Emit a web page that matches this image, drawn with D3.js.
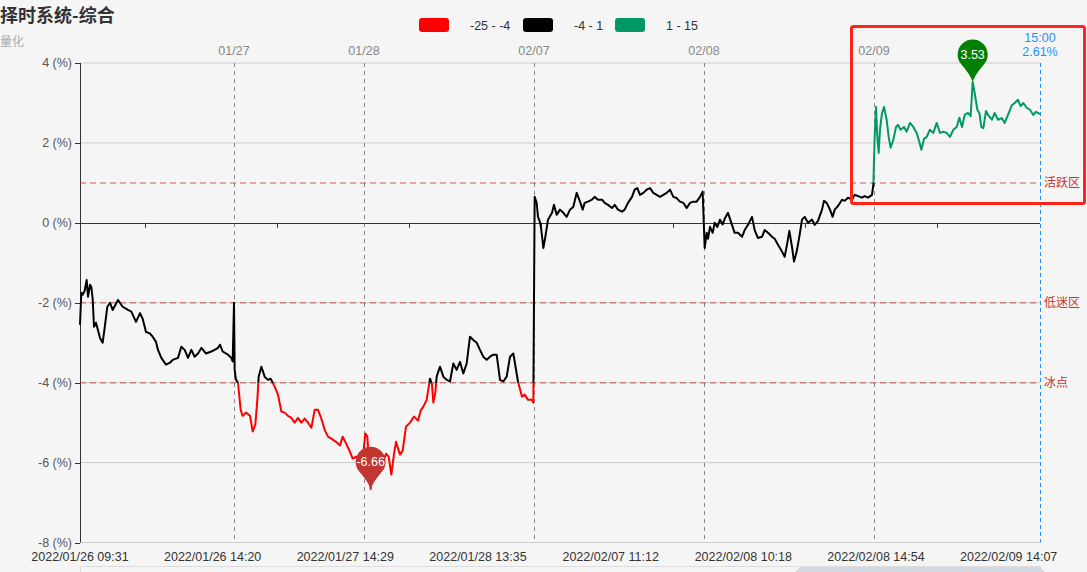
<!DOCTYPE html>
<html>
<head>
<meta charset="utf-8">
<title>择时系统-综合</title>
<style>
  body { margin: 0; background: #f5f5f5; }
  svg { display: block; }
  text { font-family: "Liberation Sans", "Noto Sans CJK SC", sans-serif; }
  .cjk { font-family: "Noto Sans CJK SC", sans-serif; }
</style>
</head>
<body>
<svg width="1087" height="572"></svg>
<script src="https://d3js.org/d3.v7.min.js"></script>
<script>

// minute index (6 trading days), percent value
var day1 = [[0,-2.55],[2,-1.75],[4,-1.8],[7,-1.7],[10,-1.43],[12,-1.85],[15,-1.55],[17,-1.6],[19,-1.9],[21,-2.6],[24,-2.5],[30,-2.88],[34,-3.0],[37,-2.63],[41,-2.1],[45,-2.0],[49,-2.18],[57,-1.93],[64,-2.1],[72,-2.18],[77,-2.22],[84,-2.48],[90,-2.26],[94,-2.4],[99,-2.73],[105,-2.77],[109,-2.85],[114,-2.98],[117,-3.18],[122,-3.38],[129,-3.55],[135,-3.5],[139,-3.43],[147,-3.38],[152,-3.1],[157,-3.18],[162,-3.38],[167,-3.18],[172,-3.35],[177,-3.27],[182,-3.13],[189,-3.27],[197,-3.22],[202,-3.18],[207,-3.13],[210,-3.05],[214,-3.22],[222,-3.3],[227,-3.38],[229,-3.47],[231,-2.0],[232,-3.68],[234,-3.93]];
var day2 = [[237,-4.0],[241,-4.68],[244,-4.83],[249,-4.75],[255,-4.83],[259,-5.22],[263,-5.05],[266,-4.43],[268,-3.85],[272,-3.6],[277,-3.85],[282,-3.93],[286,-3.9],[292,-4.1],[297,-4.3],[302,-4.72],[307,-4.75],[312,-4.83],[317,-4.88],[322,-5.0],[327,-4.88],[332,-5.0],[337,-4.9],[342,-5.0],[347,-5.13],[352,-4.68],[357,-4.68],[362,-4.9],[367,-5.18],[372,-5.35],[377,-5.4],[384,-5.48],[390,-5.57],[394,-5.35],[399,-5.52],[405,-5.73],[409,-5.9],[414,-5.85],[420,-5.98],[424,-5.94]];
var day3 = [[428,-5.27],[431,-5.35],[433,-5.9],[436,-6.66],[439,-6.0],[444,-5.85],[450,-5.94],[454,-6.0],[459,-5.78],[463,-5.85],[467,-6.3],[471,-5.78],[474,-5.48],[480,-5.8],[484,-5.7],[489,-5.1],[495,-5.0],[501,-4.85],[507,-4.95],[511,-4.7],[515,-4.6],[520,-4.43],[525,-3.9],[528,-4.05],[530,-4.5],[533,-4.25],[535,-3.85],[540,-3.6],[545,-3.85],[550,-3.93],[555,-3.97],[560,-3.52],[565,-3.68],[570,-3.48],[575,-3.77],[580,-3.52],[585,-2.85],[590,-2.93],[595,-3.0],[600,-3.18],[605,-3.35],[610,-3.43],[615,-3.35],[620,-3.3],[625,-3.3],[630,-3.93],[635,-3.97],[640,-3.85],[645,-3.35],[648,-3.3],[650,-3.27],[657,-3.97],[663,-4.35],[667,-4.3],[672,-4.43],[678,-4.43],[680,-4.5]];
var day4 = [[682,0.65],[685,0.5],[687,0.15],[690,0.02],[692,-0.18],[695,-0.63],[698,-0.35],[702,0.08],[708,0.25],[711,0.45],[715,0.2],[720,0.33],[725,0.25],[730,0.15],[735,0.33],[740,0.4],[745,0.75],[750,0.53],[754,0.33],[757,0.5],[762,0.53],[768,0.58],[772,0.65],[777,0.58],[783,0.58],[787,0.5],[792,0.45],[798,0.37],[802,0.45],[807,0.33],[813,0.28],[817,0.33],[822,0.5],[828,0.65],[832,0.83],[836,0.87],[840,0.7],[845,0.75],[850,0.83],[855,0.87],[860,0.75],[865,0.7],[870,0.65],[875,0.7],[880,0.75],[885,0.83],[890,0.65],[895,0.62],[900,0.53],[905,0.5],[910,0.37],[915,0.5],[920,0.53],[925,0.53],[930,0.65],[934,0.78]];
var day5 = [[937,-0.63],[940,-0.25],[942,-0.4],[945,-0.1],[949,-0.25],[952,0],[956,-0.1],[960,0.08],[964,-0.04],[967,0.1],[972,0.25],[978,-0.05],[982,-0.25],[987,-0.25],[993,-0.35],[997,-0.18],[1002,-0.05],[1008,0.15],[1012,-0.18],[1017,-0.38],[1023,-0.35],[1027,-0.18],[1032,-0.25],[1038,-0.35],[1042,-0.4],[1047,-0.55],[1053,-0.72],[1057,-0.85],[1061,-0.5],[1064,-0.2],[1068,-0.6],[1071,-0.97],[1075,-0.72],[1079,-0.35],[1083,0.08],[1087,0.15],[1092,0],[1098,0.08],[1102,-0.05],[1107,0.05],[1113,0.33],[1116,0.55],[1120,0.5],[1125,0.33],[1129,0.15],[1132,0.33],[1137,0.42],[1143,0.58],[1147,0.55],[1152,0.63],[1158,0.58],[1162,0.7],[1167,0.67],[1173,0.63],[1177,0.67],[1182,0.63],[1188,0.7],[1190,0.95]];
var day6 = [[1192,2.15],[1194,2.9],[1196,2.15],[1198,1.75],[1200,2.33],[1203,2.75],[1206,2.9],[1210,2.58],[1213,2.15],[1216,1.88],[1220,2.08],[1224,2.4],[1227,2.45],[1231,2.33],[1236,2.4],[1240,2.28],[1245,2.5],[1250,2.4],[1255,2.25],[1259,2.03],[1262,1.83],[1266,2.1],[1270,2.15],[1275,2.33],[1280,2.25],[1285,2.5],[1290,2.25],[1295,2.28],[1300,2.25],[1305,2.15],[1310,2.33],[1315,2.4],[1319,2.63],[1323,2.4],[1327,2.7],[1332,2.75],[1336,2.67],[1339,3.53],[1342,3.25],[1346,2.83],[1349,2.75],[1352,2.4],[1355,2.37],[1359,2.8],[1362,2.7],[1368,2.58],[1372,2.75],[1377,2.58],[1383,2.62],[1387,2.5],[1392,2.7],[1398,2.95],[1402,3.0],[1407,3.08],[1411,2.92],[1415,3.0],[1420,2.88],[1425,2.83],[1430,2.7],[1434,2.78],[1440,2.72]];

var bottomLabels = [[0,"2022/01/26 09:31"],[199,"2022/01/26 14:20"],[398,"2022/01/27 14:29"],[597,"2022/01/28 13:35"],[796,"2022/02/07 11:12"],[995,"2022/02/08 10:18"],[1194,"2022/02/08 14:54"],[1393,"2022/02/09 14:07"]];
var dayStarts = [[231,"01/27"],[426,"01/28"],[681,"02/07"],[936,"02/08"],[1191,"02/09"]];
var xTicks = [98,296,494,692,890,1088,1286];
var yTicks = [4,2,0,-2,-4,-6,-8];
var zones = [[1,"活跃区"],[-2,"低迷区"],[-4,"冰点"]];
var pieces = [{min:-25,max:-4,color:"#ff0000",label:"-25 - -4"},{min:-4,max:1,color:"#000000",label:"-4 - 1"},{min:1,max:15,color:"#009966",label:"1 - 15"}];
var lastIdx = 1440, lastTime = "15:00", lastPct = "2.61%";
var maxPt = [1339,3.53], minPt = [436,-6.66];

var data = day1.concat(day2, day3, day4, day5, day6);

var svg = d3.select("svg");
var x = d3.scaleLinear().domain([0,1440]).range([80,1040]);
var y = d3.scaleLinear().domain([-8,4]).range([542.5,63]);

// title
svg.append("text").attr("class","cjk").attr("x",0).attr("y",22).attr("font-size",18).attr("font-weight","bold")
  .attr("fill","#333").text("择时系统-综合");
svg.append("text").attr("class","cjk").attr("x",0).attr("y",46).attr("font-size",12).attr("fill","#aaa").text("量化");

// legend
var lx = [419, 523, 615];
pieces.forEach(function(p, i) {
  svg.append("rect").attr("x",lx[i]).attr("y",18).attr("width",30).attr("height",14)
    .attr("rx",3).attr("fill",p.color);
  svg.append("text").attr("x",lx[i]+51).attr("y",29.5).attr("font-size",12.5).attr("fill","#333").text(p.label);
});

// grid lines
svg.append("g").selectAll("line").data(yTicks.filter(function(d){ return d !== 0; })).enter().append("line")
  .attr("x1",80).attr("x2",1040).attr("y1",function(d){ return y(d); }).attr("y2",function(d){ return y(d); })
  .attr("stroke","#ccc").attr("stroke-width",1);

// y axis
svg.append("line").attr("x1",80.5).attr("x2",80.5).attr("y1",y(4)).attr("y2",y(-8)).attr("stroke","#333");
var yt = svg.append("g").selectAll("g").data(yTicks).enter().append("g");
yt.append("line").attr("x1",75).attr("x2",80).attr("y1",function(d){ return Math.round(y(d))+0.5; })
  .attr("y2",function(d){ return Math.round(y(d))+0.5; }).attr("stroke","#333");
yt.append("text").attr("x",72).attr("y",function(d){ return y(d)+4; }).attr("text-anchor","end")
  .attr("font-size",12.5).attr("fill","#555").text(function(d){ return d + " (%)"; });

// day separators
var ds = svg.append("g").selectAll("g").data(dayStarts).enter().append("g");
ds.append("line").attr("x1",function(d){ return Math.round(x(d[0]))+0.5; }).attr("x2",function(d){ return Math.round(x(d[0]))+0.5; })
  .attr("y1",y(4)).attr("y2",y(-8)).attr("stroke","#888").attr("stroke-dasharray","4,4");
ds.append("text").attr("x",function(d){ return x(d[0]); }).attr("y",55).attr("text-anchor","middle")
  .attr("font-size",12.5).attr("fill","#888").text(function(d){ return d[1]; });

// zero axis
svg.append("line").attr("x1",80).attr("x2",1040).attr("y1",Math.round(y(0))+0.5).attr("y2",Math.round(y(0))+0.5).attr("stroke","#333");
svg.append("g").selectAll("line").data(xTicks).enter().append("line")
  .attr("x1",function(d){ return Math.round(x(d))+0.5; }).attr("x2",function(d){ return Math.round(x(d))+0.5; })
  .attr("y1",y(0)).attr("y2",y(0)+5).attr("stroke","#333");

// bottom labels
svg.append("g").selectAll("text").data(bottomLabels).enter().append("text")
  .attr("x",function(d){ return x(d[0]); }).attr("y",560.5).attr("text-anchor","middle")
  .attr("font-size",12.5).attr("fill","#333").text(function(d){ return d[1]; });

// zone lines
var zg = svg.append("g").selectAll("g").data(zones).enter().append("g");
zg.append("line").attr("x1",80).attr("x2",1040).attr("y1",function(d){ return y(d[0]); }).attr("y2",function(d){ return y(d[0]); })
  .attr("stroke","#c23531").attr("stroke-opacity",0.55).attr("stroke-width",1.5).attr("stroke-dasharray","6,4");
zg.append("text").attr("class","cjk").attr("x",1044).attr("y",function(d){ return y(d[0])+4; }).attr("font-size",12)
  .attr("fill","#c23531").text(function(d){ return d[1]; });

// last point marker
svg.append("line").attr("x1",x(lastIdx)+0.5).attr("x2",x(lastIdx)+0.5).attr("y1",y(4)).attr("y2",y(-8))
  .attr("stroke","#1e90ff").attr("stroke-dasharray","4,3");
svg.append("text").attr("x",x(lastIdx)).attr("y",42).attr("text-anchor","middle").attr("font-size",12.5).attr("fill","#1e90ff").text(lastTime);
svg.append("text").attr("x",x(lastIdx)).attr("y",55.5).attr("text-anchor","middle").attr("font-size",12.5).attr("fill","#1e90ff").text(lastPct);

// line coloured by value band
var defs = svg.append("defs");
pieces.forEach(function(p, i) {
  defs.append("clipPath").attr("id","band"+i).append("rect")
    .attr("x",0).attr("width",1087)
    .attr("y",y(Math.min(p.max,10))).attr("height",y(Math.max(p.min,-10)) - y(Math.min(p.max,10)));
});
var line = d3.line().x(function(d){ return x(d[0]); }).y(function(d){ return y(d[1]); });
pieces.forEach(function(p, i) {
  svg.append("path").datum(data).attr("d",line).attr("fill","none").attr("stroke",p.color)
    .attr("stroke-width",2).attr("stroke-linejoin","round").attr("clip-path","url(#band"+i+")");
});

// pins
function pin(pt, color) {
  var g = svg.append("g").attr("transform","translate(" + x(pt[0]) + "," + y(pt[1]) + ")");
  g.append("path").attr("d","M0,0 Q-3,-8 -11,-17 A15,15 0 1 1 11,-17 Q3,-8 0,0 Z").attr("fill",color);
  g.append("text").attr("x",0).attr("y",-23).attr("text-anchor","middle").attr("font-size",12.5)
    .attr("fill","#fff").text(pt[1]);
}
pin(maxPt, "#008000");
pin(minPt, "#c23531");

// highlight box
svg.append("rect").attr("x",851.5).attr("y",26.5).attr("width",233).attr("height",177).attr("rx",2)
  .attr("fill","none").attr("stroke","#ff2519").attr("stroke-width",3);

// data zoom strip
svg.append("rect").attr("x",80.5).attr("y",566.5).attr("width",960).attr("height",30).attr("fill","none").attr("stroke","#ddd");
svg.append("path").attr("d","M795,572 L800,567 L1040,567 L1045,572 Z").attr("fill","#d3d9e3");

</script>
</body>
</html>
